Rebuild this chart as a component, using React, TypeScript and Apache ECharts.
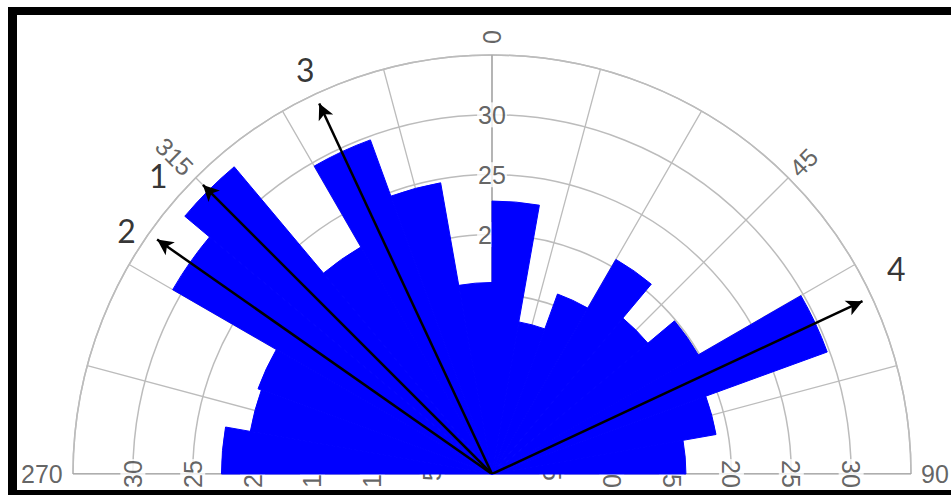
import React, { useEffect, useRef } from "react";
import * as echarts from "echarts";

// Bins (compass degrees, start of each 10° sector) from 270 through 0 to 80
const binStarts = ["270", "280", "290", "300", "310", "320", "330", "340", "350", "0", "10", "20", "30", "40", "50", "60", "70", "80"];
const binValues = [22.6, 20.5, 20.8, 30.8, 33.5, 21.9, 29.7, 24.7, 16.0, 22.8, 12.9, 16.0, 20.7, 17.0, 19.9, 29.8, 19.0, 16.2];

// Radial ticks
const ringTicks = [5, 10, 15, 20, 25, 30];
// Angle axis labels (axis value in -90..90, shown as compass text)
const angleTickValues = [-90, -45, 0, 45, 90];
const angleTickLabels = ["270", "315", "0", "45", "90"];
const angleTickRadius = [37.6, 37.5, 36.5, 36.8, 37.0];

// Arrows (compass angle expressed in -90..90, length in radial units)
const arrowNames = ["1", "2", "3", "4"];
const arrowAngles = [-45, -55, -25, 65];
const arrowLength = 34.8;
const arrowLabelRadius = [37.4, 36.7, 37.2, 37.9];
const arrowLabelAngle = [-48.2, -56.3, -24.8, 63.0];

const RADIUS_MAX = 35;
const AXIS_EXT_R = 35.9;

export default function App() {
  const ref = useRef<HTMLDivElement>(null);

  useEffect(() => {
    if (!ref.current) return;
    const chart = echarts.init(ref.current, undefined, { renderer: "svg" });
    const CX = 492;
    const CY = 474;
    const R = 419;
    const gridColor = "#bcbcbc";
    const labelFont = "Liberation Sans";
    const labelColor = "#3c3c3c";

    const radialRotate = (a: number) => {
      let r = 90 - a;
      if (r > 90) r -= 180;
      return r;
    };

    const ringLabelData: any[] = [];
    [-90, 0, 90].forEach((a) => {
      ringTicks.forEach((t) => {
        ringLabelData.push({
          value: [t, a],
          label: { rotate: a === -90 ? 90 : a === 90 ? -90 : 0 },
        });
      });
    });

    const arrowSeries = arrowAngles.map((a, i) => ({
      type: "line",
      name: "arrow" + arrowNames[i],
      coordinateSystem: "polar",
      polarIndex: 1,
      clip: false,
      symbol: "none",
      showSymbol: true,
      z: 5,
      lineStyle: { color: "#000", width: 2.5 },
      itemStyle: { color: "#000" },
      silent: true,
      data: [
        { value: [0, a], symbol: "none" },
        {
          value: [arrowLength - 0.65, a],
          symbol: "arrow",
          symbolSize: [12, 16],
          symbolRotate: -a,
        },
      ],
    }));

    const option: any = {
      animation: false,
      backgroundColor: "#ffffff",
      polar: [
        { center: [CX, CY], radius: R },
        { center: [CX, CY], radius: R },
      ],
      angleAxis: [
        {
          polarIndex: 0,
          type: "category",
          data: binStarts,
          startAngle: 180,
          endAngle: 0,
          clockwise: true,
          boundaryGap: true,
          axisLine: { show: false },
          axisTick: { show: false },
          axisLabel: { show: false },
          splitLine: { show: false },
        },
        {
          polarIndex: 1,
          type: "value",
          min: -90,
          max: 90,
          interval: 15,
          startAngle: 180,
          endAngle: 0,
          clockwise: true,
          axisLine: { show: true, lineStyle: { color: gridColor, width: 1.5 } },
          axisTick: { show: false },
          axisLabel: { show: false },
          splitLine: { show: true, lineStyle: { color: gridColor, width: 1.3 } },
        },
      ],
      radiusAxis: [
        { polarIndex: 0, type: "value", min: 0, max: RADIUS_MAX, show: false },
        {
          polarIndex: 1,
          type: "value",
          min: 0,
          max: RADIUS_MAX,
          interval: 5,
          axisLine: { show: false },
          axisTick: { show: false },
          axisLabel: { show: false },
          splitLine: { show: true, lineStyle: { color: gridColor, width: 1.5 } },
        },
      ],
      series: [
        {
          type: "line",
          name: "baseline",
          coordinateSystem: "polar",
          polarIndex: 1,
          clip: false,
          symbol: "none",
          silent: true,
          z: 1,
          lineStyle: { color: "#a4a4a4", width: 1.3 },
          data: [
            [AXIS_EXT_R, -90],
            [0, 0],
            [AXIS_EXT_R, 90],
          ],
        },
        {
          type: "line",
          name: "northline",
          coordinateSystem: "polar",
          polarIndex: 1,
          clip: false,
          symbol: "none",
          silent: true,
          z: 1,
          lineStyle: { color: "#a4a4a4", width: 1.3 },
          data: [
            [0, 0],
            [36.1, 0],
          ],
        },
        {
          type: "scatter",
          name: "ringLabels",
          coordinateSystem: "polar",
          polarIndex: 1,
          clip: false,
          silent: true,
          z: 2,
          symbolSize: 1,
          itemStyle: { color: "rgba(0,0,0,0)" },
          label: {
            show: true,
            position: "inside",
            formatter: (p: any) => String(p.value[0]),
            fontSize: 25,
            fontFamily: labelFont,
            color: labelColor,
            backgroundColor: "#ffffff",
            padding: [0, 1],
          },
          data: ringLabelData,
        },
        {
          type: "bar",
          name: "rose",
          coordinateSystem: "polar",
          polarIndex: 0,
          barCategoryGap: "0%",
          z: 3,
          itemStyle: { color: "#0000ff", borderColor: "#0000ff", borderWidth: 1 },
          data: binValues,
        },
        {
          type: "scatter",
          name: "angleLabels",
          coordinateSystem: "polar",
          polarIndex: 1,
          clip: false,
          silent: true,
          z: 2,
          symbolSize: 1,
          itemStyle: { color: "rgba(0,0,0,0)" },
          label: {
            show: true,
            position: "inside",
            fontSize: 25,
            fontFamily: labelFont,
            color: labelColor,
          },
          data: angleTickValues.map((a, i) => ({
            value: [angleTickRadius[i], a],
            label: { formatter: angleTickLabels[i], rotate: radialRotate(a) },
          })),
        },
        ...arrowSeries,
        {
          type: "scatter",
          name: "arrowLabels",
          coordinateSystem: "polar",
          polarIndex: 1,
          clip: false,
          silent: true,
          z: 6,
          symbolSize: 1,
          itemStyle: { color: "rgba(0,0,0,0)" },
          label: {
            show: true,
            position: "inside",
            fontSize: 32,
            fontFamily: "Lato",
            color: "#000000",
          },
          data: arrowNames.map((n, i) => ({
            value: [arrowLabelRadius[i], arrowLabelAngle[i]],
            label: { formatter: n },
          })),
        },
      ],
      graphic: [
        { type: "rect", z: 100, shape: { x: 8, y: 7, width: 943, height: 8 }, style: { fill: "#000" } },
        { type: "rect", z: 100, shape: { x: 8, y: 7, width: 9, height: 488 }, style: { fill: "#000" } },
        { type: "rect", z: 100, shape: { x: 8, y: 490, width: 943, height: 5 }, style: { fill: "#000" } },
      ],
    };

    chart.setOption(option);
    return () => {
      chart.dispose();
    };
  }, []);

  return (
    <div
      ref={ref}
      style={{ position: "absolute", left: 0, top: 0, width: 951, height: 495 }}
    />
  );
}
